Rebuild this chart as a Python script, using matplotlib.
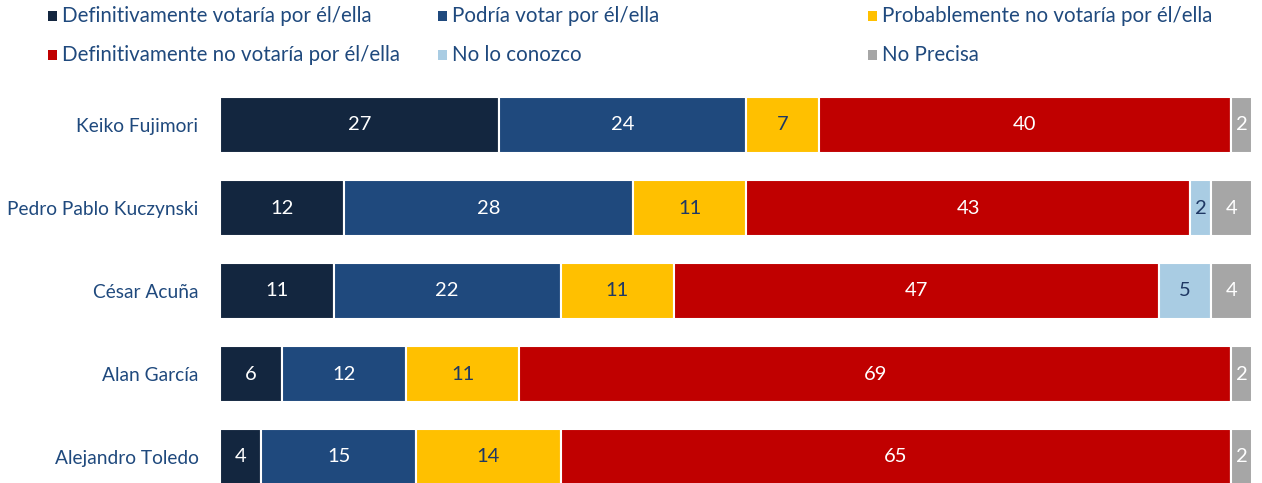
import matplotlib
matplotlib.use("Agg")
import matplotlib.pyplot as plt
from matplotlib.patches import Rectangle
import numpy as np

plt.rcParams['font.family'] = ['Lato', 'DejaVu Sans']

candidates = ["Keiko Fujimori", "Pedro Pablo Kuczynski", "César Acuña", "Alan García", "Alejandro Toledo"]
series_names = ["Definitivamente votaría por él/ella", "Podría votar por él/ella",
                "Probablemente no votaría por él/ella", "Definitivamente no votaría por él/ella",
                "No lo conozco", "No Precisa"]
def_si = [27, 12, 11, 6, 4]
podria = [24, 28, 22, 12, 15]
prob_no = [7, 11, 11, 11, 14]
def_no = [40, 43, 47, 69, 65]
no_conozco = [0, 2, 5, 0, 0]
no_precisa = [2, 4, 4, 2, 2]

values = [def_si, podria, prob_no, def_no, no_conozco, no_precisa]
colors = ["#13263F", "#1F497D", "#FFC000", "#C00000", "#A9CCE3", "#A6A6A6"]
label_colors = ["white", "white", "#1F3864", "white", "#1F3864", "white"]
text_color = "#1F497D"

W, H = 1262, 483
fig = plt.figure(figsize=(W / 100, H / 100), dpi=100)
ax = fig.add_axes([220 / W, 0, (1252 - 220) / W, (483 - 90) / H])

y = np.arange(len(candidates))
left = np.zeros(len(candidates))
for vals, col, lc in zip(values, colors, label_colors):
    vals = np.array(vals, dtype=float)
    ax.barh(y, vals, left=left, height=0.675, color=col, edgecolor="white", linewidth=1.5)
    for yi, (l, v) in enumerate(zip(left, vals)):
        if v > 0:
            ax.text(l + v / 2, yi, f"{int(v)}", ha="center", va="center", color=lc, fontsize=14.5)
    left += vals

ax.set_xlim(0, 100)
ax.set_ylim(4 + (483 - 457) / 83, (90 - 125) / 83)
ax.set_yticks(y)
ax.set_yticklabels(candidates, fontsize=13.8, color=text_color)
ax.tick_params(axis="y", length=0, pad=15.5)
ax.set_xticks([])
for s in ax.spines.values():
    s.set_visible(False)

# legend
col_x = [48, 438, 868]
row_y = [16, 55]
for i, (name, col) in enumerate(zip(series_names, colors)):
    r, c = i // 3, i % 3
    xs = col_x[c]
    ys = row_y[r]
    fig.add_artist(Rectangle((xs / W, 1 - (ys + 4.5) / H), 9 / W, 9 / H,
                             transform=fig.transFigure, color=col, lw=0))
    fig.text((xs + 14) / W, 1 - ys / H, name, ha="left", va="center", fontsize=14.8, color=text_color)

fig.savefig("out.png", dpi=100)
